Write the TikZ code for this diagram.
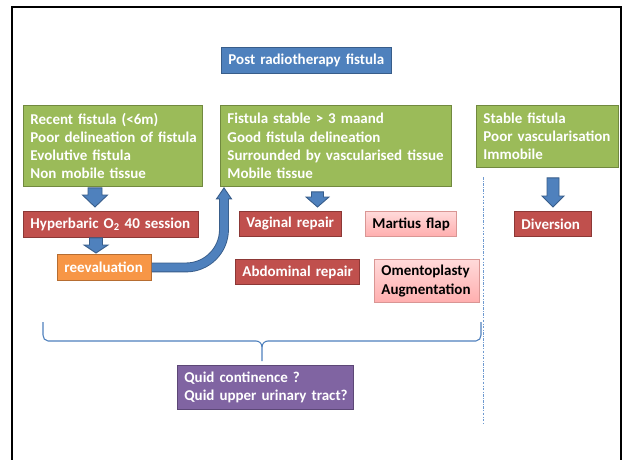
\documentclass[tikz,border=0pt]{standalone}
\usepackage{fontspec}
\setmainfont{Carlito}[BoldFont={Carlito Bold}]
\usetikzlibrary{calc}
\definecolor{bfill}{HTML}{4F81BD}
\definecolor{bborder}{HTML}{385D8A}
\definecolor{gfill}{HTML}{9BBB59}
\definecolor{gborder}{HTML}{71893F}
\definecolor{rfill}{HTML}{C0504D}
\definecolor{rborder}{HTML}{8C3836}
\definecolor{ofill}{HTML}{F79646}
\definecolor{oborder}{HTML}{B66D31}
\definecolor{pfill}{HTML}{8064A2}
\definecolor{pborder}{HTML}{5C4776}
\definecolor{pinkT}{HTML}{FFDADA}
\definecolor{pinkB}{HTML}{FFAEAE}
\definecolor{pinkD}{HTML}{D99694}
\definecolor{divcol}{HTML}{6F9AD0}
\newcommand\bdarr[5]{%
  \filldraw[barrow] let \p1=#1, \p2=#2 in
   (\x2-#5pt,\y1) -- (\x2+#5pt,\y1) -- (\x2+#5pt,\y2+#3pt) -- (\x2+#4pt,\y2+#3pt)
   -- (\x2,\y2) -- (\x2-#4pt,\y2+#3pt) -- (\x2-#5pt,\y2+#3pt) -- cycle;}
\tikzset{
  bx/.style={draw, line width=0.9pt, inner xsep=7pt, inner ysep=0pt, align=left,
    anchor=north west, font=\fontsize{15}{18.3}\selectfont\bfseries, text=white},
  bluebox/.style={bx, fill=bfill, draw=bborder},
  greenbox/.style={bx, fill=gfill, draw=gborder},
  redbox/.style={bx, fill=rfill, draw=rborder},
  orangebox/.style={bx, fill=ofill, draw=oborder},
  purplebox/.style={bx, fill=pfill, draw=pborder},
  pinkbox/.style={bx, top color=pinkT, bottom color=pinkB, draw=pinkD, text=black},
  barrow/.style={fill=bfill, draw=bborder, line width=0.9pt, line join=miter},
  bracestyle/.style={draw=bfill, line width=1.1pt},
  divider/.style={draw=divcol, line width=0.7pt, dash pattern=on 2.5pt off 1.5pt on 0.7pt off 1.5pt}
}
\begin{document}
\begin{tikzpicture}[x=1pt,y=1pt]
\useasboundingbox (0,0) rectangle (622,459);
\fill[white] (0,0) rectangle (622,459);
% frame
\draw[line width=2.2pt] (12,-5) -- (12,452) -- (621,452) -- (621,-5);

% boxes
\node[bluebox, text width=156pt, minimum height=26pt] (post) at (221,412) {\mbox{Post radiotherapy fistula}};

\node[greenbox, text width=165pt, minimum height=81pt] (g1) at (23,354)
  {\mbox{Recent fistula (<6m)}\\\mbox{Poor delineation of fistula}\\\mbox{Evolutive fistula}\\\mbox{Non mobile tissue}};
\node[greenbox, text width=217pt, minimum height=81pt] (g2) at (220,354)
  {\mbox{Fistula stable > 3 maand}\\\mbox{Good fistula delineation}\\\mbox{Surrounded by vascularised tissue}\\\mbox{Mobile tissue}};
\node[greenbox, text width=128pt, minimum height=62pt] (g3) at (476,354)
  {\mbox{Stable fistula}\\\mbox{Poor vascularisation}\\\mbox{Immobile}};

\node[redbox, text width=161pt, minimum height=26pt] (hyp) at (23,248)
  {\mbox{Hyperbaric O\textsubscript{2} 40 session}};
\node[orangebox, text width=80pt, minimum height=26pt] (re) at (57,205) {\mbox{reevaluation}};
\node[redbox, text width=88pt, minimum height=25pt] (vag) at (239,248) {\mbox{Vaginal repair}};
\node[pinkbox, text width=77pt, minimum height=25pt] (mar) at (365,248) {\mbox{Martius flap}};
\node[redbox, text width=110pt, minimum height=25pt] (abd) at (235,200) {\mbox{Abdominal repair}};
\node[pinkbox, text width=91pt, minimum height=43pt] (omen) at (374,200) {\mbox{Omentoplasty}\\\mbox{Augmentation}};
\node[redbox, text width=63pt, minimum height=25pt] (div) at (514,248) {\mbox{Diversion}};
\node[purplebox, text width=162pt, minimum height=44pt] (quid) at (177,94)
  {\mbox{Quid continence ?}\\\mbox{Quid upper urinary tract?}};

% block arrows
\coordinate (ax1) at (95,0);
\coordinate (ax2) at (96,0);
\coordinate (ax3) at (317.5,0);
\coordinate (ax4) at (553,0);
\bdarr{($(g1.south -| ax1)+(0,-1)$)}{($(hyp.north -| ax1)+(0,4)$)}{12}{12.5}{7}
\bdarr{($(hyp.south -| ax2)+(0,0)$)}{($(re.north -| ax2)+(0,1)$)}{8}{12}{6.5}
\bdarr{($(g2.south -| ax3)+(0,-5)$)}{($(vag.north -| ax3)+(0,4)$)}{10}{11.5}{6}
\bdarr{($(g3.south -| ax4)+(0,-10)$)}{($(div.north -| ax4)+(0,4)$)}{11}{11}{6}

% curved arrow from reevaluation up to the stable-fistula box
\coordinate (tip) at ($(g2.south west)+(4,-1)$);
\coordinate (hb) at ($(tip)+(0,-11)$);
\draw[double=bfill, double distance=8pt, line width=0.9pt, draw=bborder, rounded corners=38pt]
  (re.east) -| (hb);
\fill[bfill] ($(hb)+(-7.5,0)$) -- (tip) -- ($(hb)+(7.5,0)$) -- cycle;
\draw[bborder, line width=0.9pt, line join=miter]
  ($(hb)+(-4.45,0)$) -- ($(hb)+(-7.5,0)$) -- (tip) -- ($(hb)+(7.5,0)$) -- ($(hb)+(4.45,0)$);

% divider
\draw[divider] (483,282) -- (483,36);

% brace
\coordinate (bl) at (43,137);
\coordinate (br) at (481,137);
\coordinate (bt) at (262,98);
\draw[bracestyle] (bl) -- (43,124) to[out=-90,in=180] (48,118) -- (256,118)
  to[out=0,in=90] (262,112) -- (bt);
\draw[bracestyle] (br) -- (481,124) to[out=-90,in=0] (476,118) -- (268,118)
  to[out=180,in=90] (262,112);
\end{tikzpicture}
\end{document}
